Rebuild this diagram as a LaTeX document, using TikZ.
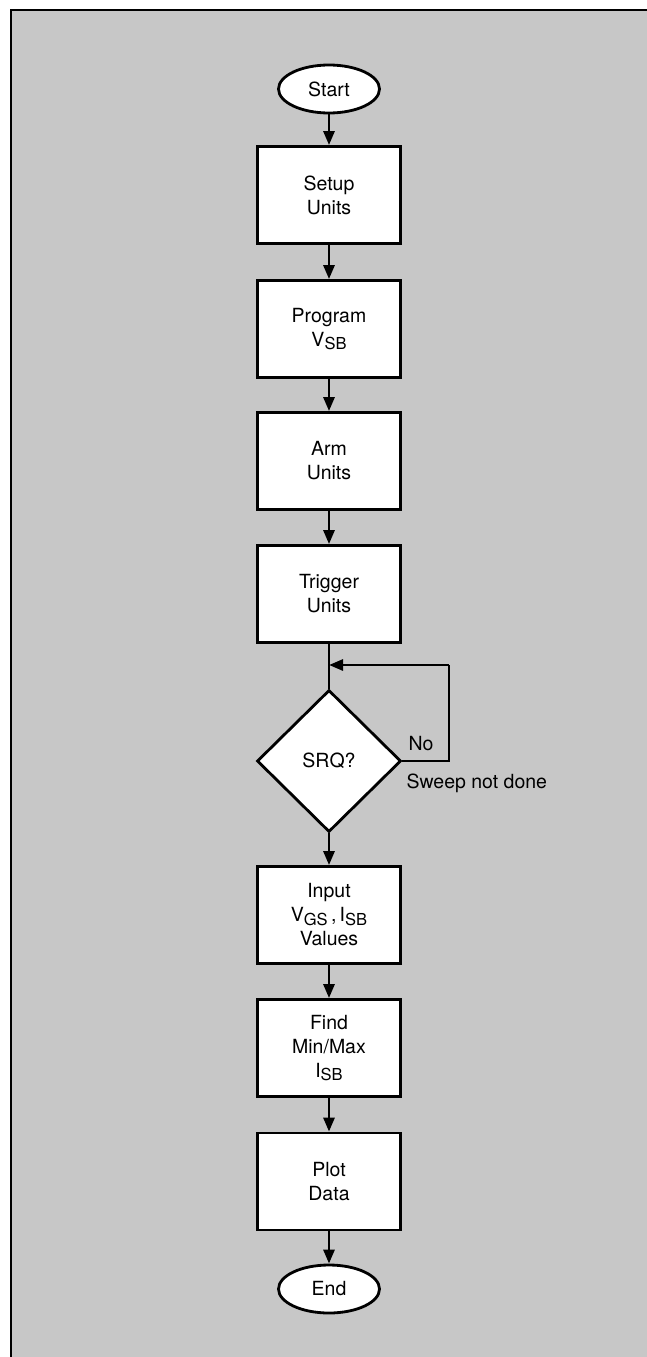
\documentclass[tikz,border=0pt]{standalone}
\usepackage{fontspec}
\setmainfont{TeX Gyre Heros}
\usetikzlibrary{shapes.geometric,arrows.meta}
\newcommand{\sbs}[1]{\raisebox{-0.3ex}{\fontsize{16.5}{16.5}\selectfont #1}}
\tikzset{
  txt/.style={font=\fontsize{19.5}{24}\selectfont, align=center},
  stepbox/.style={txt, rectangle, draw, line width=2.8pt, fill=white, minimum width=143pt, minimum height=97pt, inner sep=0pt},
  term/.style={txt, ellipse, draw, line width=2.8pt, fill=white, minimum width=101pt, minimum height=48pt, inner sep=0pt},
  decide/.style={txt, diamond, draw, line width=2.8pt, fill=white, minimum width=144pt, minimum height=142pt, inner sep=0pt},
  flow/.style={line width=2.8pt, -{Triangle[length=14pt,width=11pt]}},
  plain/.style={line width=2.8pt},
}
\begin{document}
\begin{tikzpicture}[x=1pt,y=-1pt]
\useasboundingbox (0,0) rectangle (647,1357);
\fill[black!22] (11,10) rectangle (647,1357);
\draw[line width=2.8pt] (647,10) -- (11,10) -- (11,1357);

\node[term] (start) at (329,89) {Start};
\node[stepbox] (setup) at (329,195) {Setup\\Units};
\node[stepbox] (prog) at (329,329) {Program\\V\sbs{SB}};
\node[stepbox] (arm) at (329,461) {Arm\\Units};
\node[stepbox] (trig) at (329,594) {Trigger\\Units};
\node[decide] (srq) at (329,761) {SRQ?};
\node[stepbox] (input) at (329,915) {Input\\V\sbs{GS}\,,\,I\sbs{SB}\\Values};
\node[stepbox] (find) at (329,1048) {Find\\Min/Max\\I\sbs{SB}};
\node[stepbox] (plot) at (329,1181.5) {Plot\\Data};
\node[term] (end) at (329,1289) {End};

\coordinate (merge) at (329,665);
\coordinate (cr) at (449,761);
\coordinate (ct) at (449,665);

\draw[flow] (start) -- (setup);
\draw[flow] (setup) -- (prog);
\draw[flow] (prog) -- (arm);
\draw[flow] (arm) -- (trig);
\draw[plain] (trig) -- (srq.north);
\draw[plain] (srq.east) -- (cr) -- (ct);
\draw[flow] (ct) -- (merge);
\draw[flow] (srq) -- (input);
\draw[flow] (input) -- (find);
\draw[flow] (find) -- (plot);
\draw[flow] (plot) -- (end);

\node[txt, anchor=base west] (no) at (405,750) {No};
\node[txt, anchor=base west] (sweep) at (403,788) {Sweep not done};
\end{tikzpicture}
\end{document}
